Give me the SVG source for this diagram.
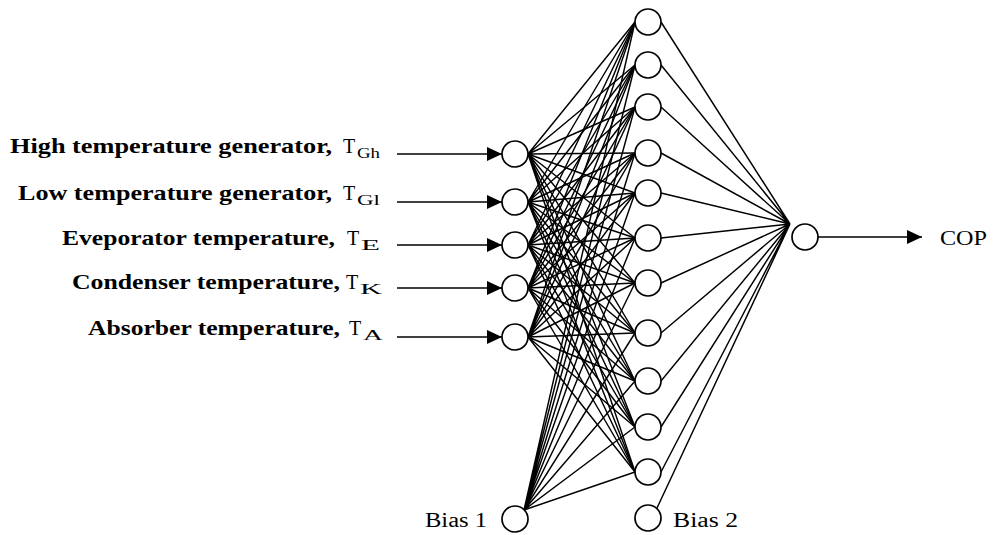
<svg xmlns="http://www.w3.org/2000/svg" width="993" height="535" viewBox="0 0 993 535">
<style>
.n{fill:#fff;stroke:#000;stroke-width:1.7}
.c{fill:none;stroke:#000;stroke-width:1.45}
.a{fill:none;stroke:#000;stroke-width:1.7}
.lb{font-family:"Liberation Serif",serif;font-weight:bold;font-size:21px;fill:#000}
.t{font-family:"Liberation Serif",serif;font-size:20px;fill:#000}
.s{font-family:"Liberation Serif",serif;font-size:14px;fill:#000}
</style>
<defs>
<marker id="arr" markerUnits="userSpaceOnUse" markerWidth="16" markerHeight="14" refX="15" refY="7" orient="auto">
<path d="M0,0 L15,7 L0,14 z" fill="#000"/>
</marker>
</defs>
<rect width="993" height="535" fill="#fff"/>
<g id="connectors">
<path class="c" d="M528 154L635 22M528 154L635 65M528 154L635 107M528 154L635 153M528 154L635 193M528 154L635 238M528 154L635 283M528 154L635 333M528 154L635 381M528 154L635 427M528 154L635 472"/>
<path class="c" d="M528 202L635 22M528 202L635 65M528 202L635 107M528 202L635 153M528 202L635 193M528 202L635 238M528 202L635 283M528 202L635 333M528 202L635 381M528 202L635 427M528 202L635 472"/>
<path class="c" d="M528 245L635 22M528 245L635 65M528 245L635 107M528 245L635 153M528 245L635 193M528 245L635 238M528 245L635 283M528 245L635 333M528 245L635 381M528 245L635 427M528 245L635 472"/>
<path class="c" d="M528 288L635 22M528 288L635 65M528 288L635 107M528 288L635 153M528 288L635 193M528 288L635 238M528 288L635 283M528 288L635 333M528 288L635 381M528 288L635 427M528 288L635 472"/>
<path class="c" d="M528 337L635 22M528 337L635 65M528 337L635 107M528 337L635 153M528 337L635 193M528 337L635 238M528 337L635 283M528 337L635 333M528 337L635 381M528 337L635 427M528 337L635 472"/>
<path class="c" d="M524 510L635 22M524 510L635 65M524 510L635 107M524 510L635 153M524 510L635 193M524 510L635 238M524 510L635 283M524 510L635 333M524 510L635 381M524 510L635 427M524 510L635 472"/>
<path class="c" d="M661 22L790 224M661 65L790 224M661 107L790 224M661 153L790 224M661 193L790 224M661 238L790 224M661 283L790 224M661 333L790 224M661 381L790 224M661 427L790 224M661 472L790 224M657 508L790 224"/>
<line class="a" x1="397" y1="154" x2="502" y2="154" marker-end="url(#arr)"/>
<line class="a" x1="397" y1="202" x2="502" y2="202" marker-end="url(#arr)"/>
<line class="a" x1="397" y1="245" x2="502" y2="245" marker-end="url(#arr)"/>
<line class="a" x1="397" y1="288" x2="502" y2="288" marker-end="url(#arr)"/>
<line class="a" x1="397" y1="337" x2="502" y2="337" marker-end="url(#arr)"/>
<line class="a" x1="818" y1="237" x2="922" y2="237" marker-end="url(#arr)"/>
</g>
<g id="in1"><text class="lb" x="10" y="153" textLength="322" lengthAdjust="spacingAndGlyphs">High temperature generator,</text><text class="t" x="343" y="153">T</text><text class="s" x="357" y="158" textLength="23" lengthAdjust="spacingAndGlyphs">Gh</text><circle class="n" cx="515" cy="154" r="13"/></g>
<g id="in2"><text class="lb" x="18" y="200" textLength="314" lengthAdjust="spacingAndGlyphs">Low temperature generator,</text><text class="t" x="343" y="200">T</text><text class="s" x="357" y="205" textLength="23" lengthAdjust="spacingAndGlyphs">Gl</text><circle class="n" cx="515" cy="202" r="13"/></g>
<g id="in3"><text class="lb" x="62" y="245" textLength="273" lengthAdjust="spacingAndGlyphs">Eveporator temperature,</text><text class="t" x="347" y="245">T</text><text class="s" x="361" y="250" textLength="19" lengthAdjust="spacingAndGlyphs">E</text><circle class="n" cx="515" cy="245" r="13"/></g>
<g id="in4"><text class="lb" x="72" y="289" textLength="268" lengthAdjust="spacingAndGlyphs">Condenser temperature,</text><text class="t" x="346" y="289">T</text><text class="s" x="360" y="294" textLength="22" lengthAdjust="spacingAndGlyphs">K</text><circle class="n" cx="515" cy="288" r="13"/></g>
<g id="in5"><text class="lb" x="88" y="335" textLength="252" lengthAdjust="spacingAndGlyphs">Absorber temperature,</text><text class="t" x="349" y="335">T</text><text class="s" x="363" y="340" textLength="20" lengthAdjust="spacingAndGlyphs">A</text><circle class="n" cx="515" cy="337" r="13"/></g>
<g id="bias1"><text class="t" x="425" y="527" textLength="62" lengthAdjust="spacingAndGlyphs">Bias 1</text><circle class="n" cx="515" cy="519" r="13"/></g>
<g id="h1"><circle class="n" cx="648" cy="22" r="13"/></g>
<g id="h2"><circle class="n" cx="648" cy="65" r="13"/></g>
<g id="h3"><circle class="n" cx="648" cy="107" r="13"/></g>
<g id="h4"><circle class="n" cx="648" cy="153" r="13"/></g>
<g id="h5"><circle class="n" cx="648" cy="193" r="13"/></g>
<g id="h6"><circle class="n" cx="648" cy="238" r="13"/></g>
<g id="h7"><circle class="n" cx="648" cy="283" r="13"/></g>
<g id="h8"><circle class="n" cx="648" cy="333" r="13"/></g>
<g id="h9"><circle class="n" cx="648" cy="381" r="13"/></g>
<g id="h10"><circle class="n" cx="648" cy="427" r="13"/></g>
<g id="h11"><circle class="n" cx="648" cy="472" r="13"/></g>
<g id="bias2"><circle class="n" cx="648" cy="518" r="13"/><text class="t" x="673" y="527" textLength="65" lengthAdjust="spacingAndGlyphs">Bias 2</text></g>
<g id="out"><circle class="n" cx="805" cy="237" r="13"/></g>
<g id="cop"><text class="t" x="940" y="245" textLength="47" lengthAdjust="spacingAndGlyphs">COP</text></g>
</svg>
